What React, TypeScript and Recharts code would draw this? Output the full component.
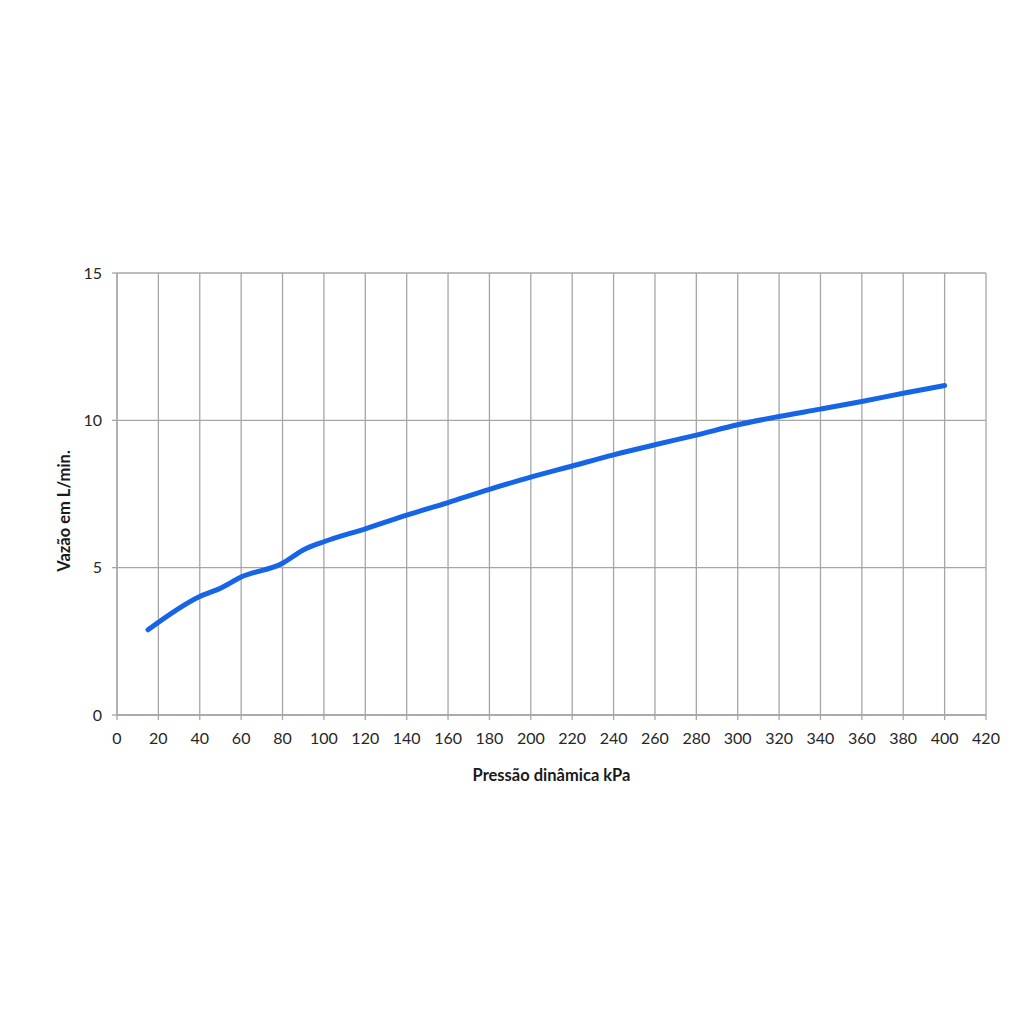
import { LineChart, Line, XAxis, YAxis, CartesianGrid, Label } from "recharts";

const pressao = [15, 40, 50, 60, 80, 90, 100, 120, 140, 160, 180, 200, 220, 240, 260, 280, 300, 320, 340, 360, 380, 400];
const vazao = [2.89, 4.02, 4.3, 4.68, 5.15, 5.6, 5.88, 6.32, 6.78, 7.21, 7.66, 8.07, 8.45, 8.83, 9.17, 9.5, 9.85, 10.13, 10.38, 10.64, 10.92, 11.18];
const xTicks = [0, 20, 40, 60, 80, 100, 120, 140, 160, 180, 200, 220, 240, 260, 280, 300, 320, 340, 360, 380, 400, 420];
const yTicks = [0, 5, 10, 15];

const data = pressao.map((p, i) => ({ pressao: p, vazao: vazao[i] }));

const font = "Lato, 'Open Sans', sans-serif";
const grid = "#a6a6a6";

function YTitle(props: any) {
  const vb = props.viewBox;
  const x = vb.x + 19;
  const y = vb.y + vb.height / 2 + 17;
  return (
    <text
      x={x}
      y={y}
      transform={`rotate(-90, ${x}, ${y})`}
      textAnchor="middle"
      dominantBaseline="central"
      fontFamily={font}
      fontSize={16.5}
      fontWeight="bold"
      fill="#1a1a1a"
    >
      Vazão em L/min.
    </text>
  );
}

export default function App() {
  return (
    <div style={{ width: 1009, height: 850 }}>
      <LineChart
        width={1009}
        height={850}
        data={data}
        margin={{ top: 265, right: 31, left: 37, bottom: 77 }}
      >
        <CartesianGrid stroke={grid} strokeWidth={1.3} />
        <XAxis
          dataKey="pressao"
          type="number"
          domain={[0, 420]}
          ticks={xTicks}
          interval={0}
          height={66}
          stroke={grid}
          strokeWidth={1.3}
          tickSize={5}
          tick={{ fill: "#262626", fontSize: 16, fontFamily: font }}
          tickMargin={13}
        >
          <Label
            value="Pressão dinâmica kPa"
            position="insideBottom"
            offset={0}
            style={{ fontFamily: font, fontSize: 16.5, fontWeight: "bold", fill: "#1a1a1a" }}
          />
        </XAxis>
        <YAxis
          type="number"
          domain={[0, 15]}
          ticks={yTicks}
          width={72}
          stroke={grid}
          strokeWidth={1.3}
          tickSize={5}
          tick={{ fill: "#262626", fontSize: 16, fontFamily: font }}
          tickMargin={10}
        >
          <Label content={<YTitle />} />
        </YAxis>
        <Line
          dataKey="vazao"
          type="monotone"
          stroke="#1565e6"
          strokeWidth={5}
          strokeLinecap="round"
          dot={false}
          isAnimationActive={false}
        />
      </LineChart>
    </div>
  );
}
